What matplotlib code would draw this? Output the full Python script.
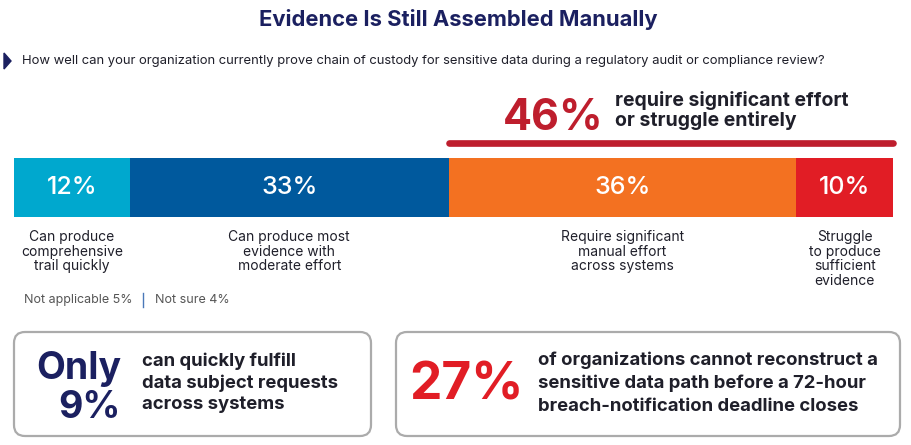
import matplotlib
matplotlib.use("Agg")
import matplotlib.pyplot as plt
from matplotlib.patches import FancyBboxPatch, Polygon
from matplotlib.transforms import blended_transform_factory
import numpy as np

plt.rcParams['font.family'] = ['Inter', 'DejaVu Sans']

# ---- data ----
title = "Evidence Is Still Assembled Manually"
question = ("How well can your organization currently prove chain of custody for sensitive data "
            "during a regulatory audit or compliance review?")
categories = ["Can produce\ncomprehensive\ntrail quickly",
              "Can produce most\nevidence with\nmoderate effort",
              "Require significant\nmanual effort\nacross systems",
              "Struggle\nto produce\nsufficient\nevidence"]
values = [12, 33, 36, 10]
colors = ["#00a8ce", "#00599d", "#f37121", "#e11d25"]
other_labels = ["Not applicable 5%", "Not sure 4%"]
callout_value = "46%"
callout_text = "require significant effort\nor struggle entirely"
stat1_value = "Only\n9%"
stat1_text = "can quickly fulfill\ndata subject requests\nacross systems"
stat2_value = "27%"
stat2_text = ("of organizations cannot reconstruct a\nsensitive data path before a 72-hour\n"
              "breach-notification deadline closes")

NAVY = "#1b2060"
DARK = "#1f1f2a"
RED_DARK = "#be1e2d"

W, H = 912, 445
fig = plt.figure(figsize=(W / 100, H / 100), dpi=100)
ax = fig.add_axes([0, 0, 1, 1])
ax.set_xlim(0, W)
ax.set_ylim(H, 0)
ax.axis("off")

# bar axes: pixels 14..893 horizontally, 158..217 vertically
bx0, bx1, by0, by1 = 14, 893, 158, 217
axb = fig.add_axes([bx0 / W, 1 - by1 / H, (bx1 - bx0) / W, (by1 - by0) / H])
total = sum(values)
lefts = np.concatenate([[0], np.cumsum(values)[:-1]])
axb.barh([0], values, left=lefts, color=colors, height=1.0, edgecolor="none")
axb.set_xlim(0, total)
axb.set_ylim(-0.5, 0.5)
axb.axis("off")

for v, l in zip(values, lefts):
    axb.text(l + v / 2, 0.0, f"{v}%", ha="center", va="center", color="white",
             fontsize=18, fontweight="medium")

tr = blended_transform_factory(axb.transData, ax.transData)
for cat, v, l in zip(categories, values, lefts):
    ax.text(l + v / 2, 230, cat, transform=tr, ha="center", va="top",
            fontsize=10, color=DARK, linespacing=1.05, multialignment="center")

# bracket line over last two segments
start = lefts[2]
end = lefts[3] + values[3]
ax.plot([start, end], [143, 143], transform=tr, color=RED_DARK, lw=4.8,
        solid_capstyle="round", clip_on=False)

# title and question
ax.text(458, 20, title, ha="center", va="center", fontsize=15.8, fontweight="bold", color=NAVY)
ax.add_patch(Polygon([[4, 53], [11, 61], [4, 69]], closed=True, color=NAVY))
ax.text(22, 61, question, ha="left", va="center", fontsize=9.4, color=DARK)

# callout
ax.text(604, 130, callout_value, ha="right", va="baseline", fontsize=31, fontweight="bold",
        color=RED_DARK)
ax.text(615, 106, callout_text.split("\n")[0], ha="left", va="baseline", fontsize=14,
        fontweight="bold", color=DARK)
ax.text(615, 126, callout_text.split("\n")[1], ha="left", va="baseline", fontsize=14,
        fontweight="bold", color=DARK)

# other responses
ax.text(24, 300, other_labels[0], ha="left", va="center", fontsize=9, color="#555555")
ax.plot([143, 143], [293, 307], color="#4a78b8", lw=1)
ax.text(155, 300, other_labels[1], ha="left", va="center", fontsize=9, color="#555555")

# boxes
for x0, x1 in [(14, 371), (396, 900)]:
    ax.add_patch(FancyBboxPatch((x0, 332), x1 - x0, 104,
                                boxstyle="round,pad=0,rounding_size=11",
                                facecolor="white", edgecolor="#ababab", lw=1.6))

v1 = stat1_value.split("\n")
ax.text(121, 379, v1[0], ha="right", va="baseline", fontsize=27, fontweight="bold", color=NAVY)
ax.text(121, 418, v1[1], ha="right", va="baseline", fontsize=27, fontweight="bold", color=NAVY)
for i, line in enumerate(stat1_text.split("\n")):
    ax.text(142, 366 + i * 21.5, line, ha="left", va="baseline", fontsize=13.3,
            fontweight="bold", color=DARK)

ax.text(524, 399, stat2_value, ha="right", va="baseline", fontsize=37, fontweight="bold",
        color="#e11d25")
for i, line in enumerate(stat2_text.split("\n")):
    ax.text(538, 365 + i * 23, line, ha="left", va="baseline", fontsize=13.3,
            fontweight="bold", color=DARK)

fig.savefig("out.png", dpi=100)
